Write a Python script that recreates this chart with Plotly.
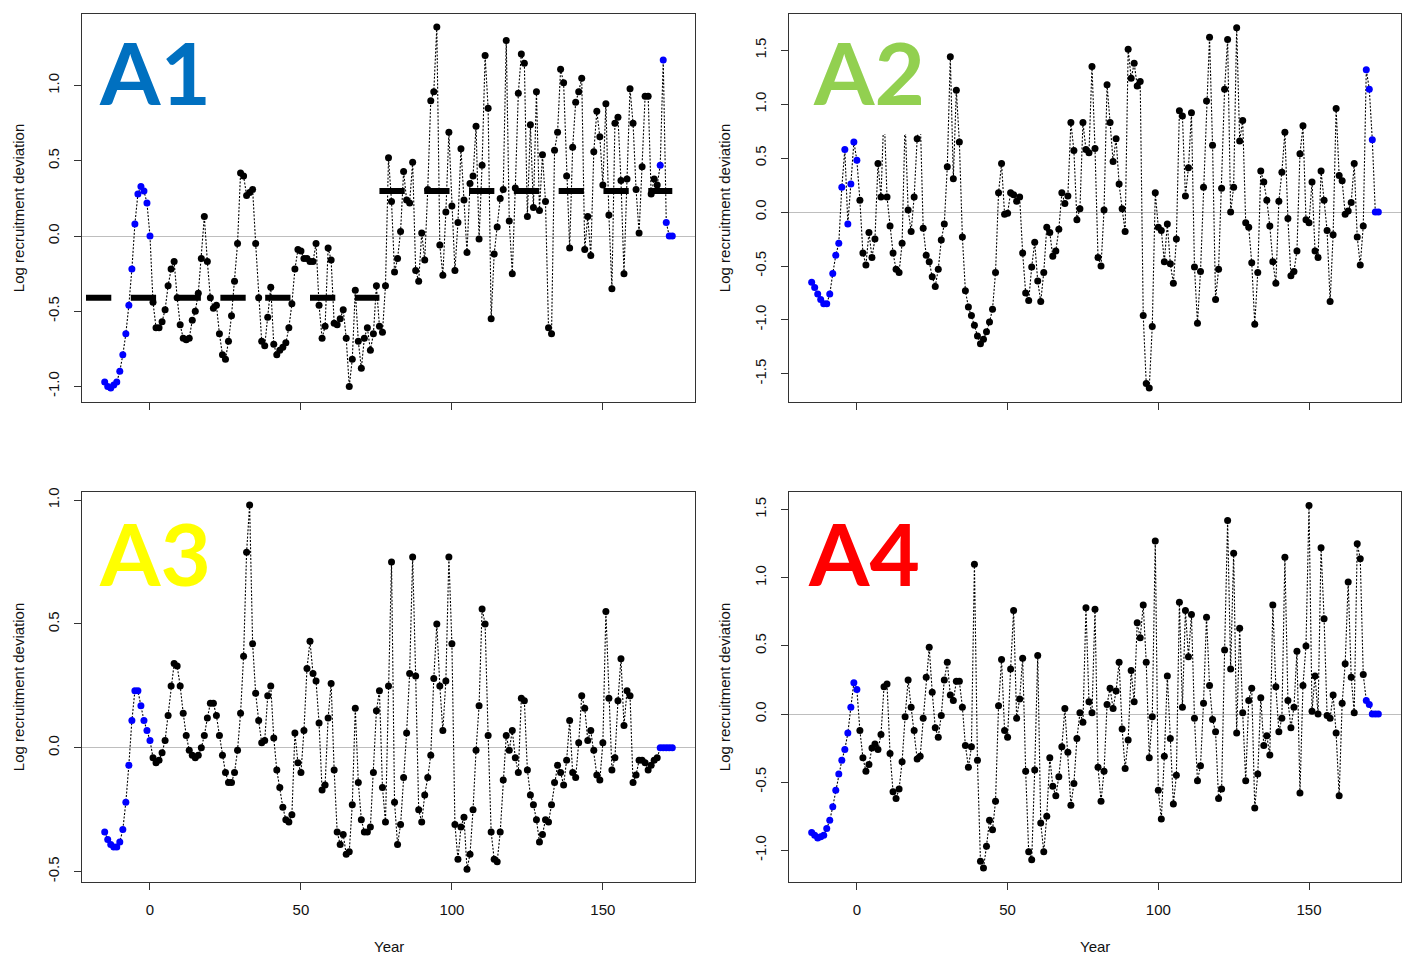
import plotly.graph_objects as go

W, H = 1410, 958

years = list(range(-15, 174))

A1 = [-0.97, -1.00, -1.01, -0.99, -0.97, -0.90, -0.79, -0.65, -0.46, -0.22,
      0.08, 0.28, 0.33, 0.30, 0.22, 0.00, -0.44, -0.61, -0.61, -0.57,
      -0.49, -0.33, -0.22, -0.17, -0.41, -0.59, -0.68, -0.69, -0.68, -0.56,
      -0.50, -0.38, -0.15, 0.13, -0.17, -0.41, -0.48, -0.46, -0.65, -0.79,
      -0.82, -0.70, -0.53, -0.30, -0.05, 0.42, 0.40, 0.27, 0.29, 0.31,
      -0.05, -0.41, -0.70, -0.73, -0.54, -0.34, -0.72, -0.79, -0.76, -0.74,
      -0.71, -0.61, -0.45, -0.22, -0.09, -0.10, -0.15, -0.15, -0.17, -0.17,
      -0.05, -0.46, -0.68, -0.60, -0.08, -0.16, -0.58, -0.59, -0.55, -0.49,
      -0.68, -1.00, -0.82, -0.36, -0.70, -0.88, -0.68, -0.61, -0.76, -0.65,
      -0.33, -0.60, -0.64, -0.33, 0.52, 0.23, -0.24, -0.15, 0.03, 0.43,
      0.24, 0.22, 0.49, -0.23, -0.30, 0.02, -0.16, 0.31, 0.90, 0.96,
      1.39, -0.06, -0.26, 0.16, 0.69, 0.20, -0.23, 0.09, 0.58, 0.24,
      -0.11, 0.35, 0.40, 0.73, -0.02, 0.47, 1.20, 0.85, -0.55, -0.12,
      0.06, 0.25, 0.31, 1.30, 0.10, -0.25, 0.32, 0.95, 1.21, 1.15,
      0.13, 0.74, 0.19, 0.96, 0.17, 0.54, 0.23, -0.61, -0.65, 0.57,
      0.69, 1.11, 1.02, 0.40, -0.08, 0.59, 0.89, 0.96, 1.05, -0.09,
      0.13, -0.13, 0.56, 0.83, 0.66, 0.34, 0.88, 0.14, -0.35, 0.75,
      0.79, 0.37, -0.25, 0.38, 0.98, 0.75, 0.31, 0.02, 0.46, 0.93,
      0.93, 0.28, 0.38, 0.34, 0.47, 1.17, 0.09, 0.00, 0.00]

A2 = [-0.65, -0.70, -0.76, -0.81, -0.85, -0.85, -0.76, -0.57, -0.40, -0.29,
      0.23, 0.58, -0.11, 0.26, 0.65, 0.48, 0.11, -0.38, -0.49, -0.19,
      -0.42, -0.25, 0.45, 0.14, 0.95, 0.14, -0.13, -0.38, -0.53, -0.56,
      -0.29, 0.85, 0.02, -0.18, 0.14, 0.68, 0.90, -0.15, -0.40, -0.46,
      -0.60, -0.69, -0.53, -0.26, -0.11, 0.42, 1.44, 0.31, 1.13, 0.65,
      -0.23, -0.73, -0.88, -0.96, -1.05, -1.15, -1.22, -1.18, -1.11, -1.02,
      -0.90, -0.56, 0.18, 0.45, -0.02, -0.01, 0.18, 0.16, 0.10, 0.14,
      -0.38, -0.75, -0.82, -0.51, -0.28, -0.64, -0.83, -0.56, -0.14, -0.19,
      -0.41, -0.36, -0.16, 0.18, 0.08, 0.15, 0.83, 0.57, -0.07, 0.03,
      0.83, 0.58, 0.55, 1.35, 0.59, -0.42, -0.50, 0.02, 1.18, 0.83,
      0.47, 0.68, 0.26, 0.03, -0.18, 1.51, 1.24, 1.38, 1.17, 1.21,
      -0.96, -1.59, -1.63, -1.06, 0.18, -0.14, -0.17, -0.46, -0.11, -0.48,
      -0.66, -0.25, 0.94, 0.89, 0.15, 0.41, 0.92, -0.51, -1.03, -0.55,
      0.23, 1.03, 1.62, 0.62, -0.81, -0.53, 0.22, 1.14, 1.60, 0.00,
      0.23, 1.71, 0.66, 0.85, -0.10, -0.14, -0.47, -1.04, -0.56, 0.38,
      0.28, 0.11, -0.13, -0.46, -0.66, 0.10, 0.37, 0.74, -0.06, -0.59,
      -0.55, -0.36, 0.54, 0.80, -0.07, -0.10, 0.28, -0.36, -0.42, 0.38,
      0.11, -0.17, -0.83, -0.21, 0.96, 0.34, 0.29, -0.02, 0.01, 0.09,
      0.45, -0.23, -0.49, -0.13, 1.32, 1.14, 0.67, 0.00, 0.00]

A3 = [-0.34, -0.37, -0.39, -0.40, -0.40, -0.38, -0.33, -0.22, -0.07, 0.11,
      0.23, 0.23, 0.17, 0.11, 0.07, 0.03, -0.04, -0.06, -0.05, -0.02,
      0.03, 0.13, 0.25, 0.34, 0.33, 0.25, 0.14, 0.05, -0.01, -0.03,
      -0.04, -0.03, 0.00, 0.05, 0.12, 0.18, 0.18, 0.13, 0.05, -0.03,
      -0.10, -0.14, -0.14, -0.10, -0.01, 0.14, 0.37, 0.79, 0.98, 0.42,
      0.22, 0.11, 0.02, 0.03, 0.21, 0.25, 0.04, -0.09, -0.16, -0.24,
      -0.29, -0.30, -0.27, 0.06, -0.06, -0.10, 0.07, 0.32, 0.43, 0.30,
      0.27, 0.10, -0.17, -0.15, 0.12, 0.26, -0.09, -0.34, -0.39, -0.35,
      -0.43, -0.42, -0.23, 0.16, -0.14, -0.29, -0.34, -0.34, -0.32, -0.10,
      0.15, 0.23, -0.16, -0.30, 0.25, 0.75, -0.22, -0.39, -0.31, -0.12,
      0.06, 0.30, 0.77, 0.29, -0.25, -0.30, -0.19, -0.12, -0.03, 0.28,
      0.50, 0.25, 0.07, 0.27, 0.77, 0.42, -0.31, -0.45, -0.32, -0.28,
      -0.49, -0.43, -0.25, -0.01, 0.17, 0.56, 0.50, 0.05, -0.34, -0.45,
      -0.46, -0.34, -0.13, 0.05, -0.01, 0.07, -0.04, -0.10, 0.20, 0.19,
      -0.09, -0.19, -0.23, -0.29, -0.38, -0.35, -0.29, -0.30, -0.23, -0.14,
      -0.07, -0.10, -0.15, -0.05, 0.11, -0.10, -0.12, 0.02, 0.21, 0.16,
      0.03, 0.07, -0.01, -0.11, -0.13, 0.02, 0.55, 0.20, -0.09, -0.04,
      0.19, 0.36, 0.09, 0.23, 0.21, -0.14, -0.11, -0.05, -0.05, -0.06,
      -0.09, -0.07, -0.05, -0.04, 0.00, 0.00, 0.00, 0.00, 0.00]

A4 = [-0.87, -0.89, -0.91, -0.90, -0.89, -0.84, -0.78, -0.68, -0.56, -0.44,
      -0.34, -0.26, -0.14, 0.05, 0.23, 0.18, -0.12, -0.32, -0.42, -0.37,
      -0.25, -0.22, -0.26, -0.15, 0.20, 0.22, -0.29, -0.57, -0.62, -0.55,
      -0.35, -0.02, 0.25, 0.05, -0.12, -0.33, -0.31, -0.03, 0.27, 0.49,
      0.16, -0.10, -0.17, -0.01, 0.25, 0.38, 0.14, 0.10, 0.24, 0.24,
      0.05, -0.23, -0.39, -0.24, 1.10, -0.34, -1.08, -1.13, -0.97, -0.78,
      -0.85, -0.64, 0.06, 0.40, -0.12, -0.17, 0.33, 0.76, -0.03, 0.11,
      0.41, -0.42, -1.01, -1.07, -0.41, 0.43, -0.80, -1.01, -0.75, -0.32,
      -0.53, -0.60, -0.46, -0.24, 0.04, -0.28, -0.67, -0.51, -0.18, 0.01,
      -0.06, 0.78, 0.09, 0.01, 0.77, -0.39, -0.64, -0.42, 0.07, 0.19,
      0.04, 0.17, 0.38, -0.11, -0.40, -0.19, 0.32, 0.09, 0.67, 0.56,
      0.80, 0.38, -0.32, -0.02, 1.27, -0.56, -0.77, -0.31, 0.28, -0.18,
      -0.66, -0.45, 0.82, 0.05, 0.76, 0.42, 0.73, -0.03, -0.49, -0.38,
      0.08, 0.71, 0.21, -0.04, -0.13, -0.62, -0.55, 0.47, 1.42, 0.33,
      1.18, -0.14, 0.63, 0.01, -0.49, 0.10, 0.19, -0.69, -0.44, 0.12,
      -0.23, -0.16, -0.30, 0.80, 0.20, -0.13, -0.03, 1.15, 0.10, -0.10,
      0.05, 0.46, -0.58, 0.21, 0.50, 1.53, 0.02, 0.28, 0.00, 1.22,
      0.70, -0.01, -0.03, 0.14, -0.14, -0.60, 0.08, 0.37, 0.97, 0.27,
      0.01, 1.25, 1.14, 0.29, 0.10, 0.07, 0.00, 0.00, 0.00]

# regime means drawn in panel A1
regime_start = [-21.2, 76.0]
regime_end = [76.0, 173.0]
regime_mean = [-0.41, 0.30]

x_ticks = [0, 50, 100, 150]
y_ticks_A1 = [-1.0, -0.5, 0.0, 0.5, 1.0]
y_ticks_A2 = [-1.5, -1.0, -0.5, 0.0, 0.5, 1.0, 1.5]
y_ticks_A3 = [-0.5, 0.0, 0.5, 1.0]
y_ticks_A4 = [-1.0, -0.5, 0.0, 0.5, 1.0, 1.5]

labels = ["A1", "A2", "A3", "A4"]
label_colors = ["#0070C0", "#92D050", "#FFFF00", "#FF0000"]
y_title = "Log recruitment deviation"
x_title = "Year"


def px(x):
    return x / W


def py(y):
    return 1 - y / H


xr = [-22.52, 180.52]
dom_x = {"L": [px(82), px(695)], "R": [px(789), px(1401)]}
dom_y = {"T": [py(400), py(10)], "B": [py(882), py(490)]}

panels = [
    dict(vals=A1, yr=[-1.106, 1.477], yt=y_ticks_A1, dx="L", dy="T"),
    dict(vals=A2, yr=[-1.764, 1.837], yt=y_ticks_A2, dx="R", dy="T"),
    dict(vals=A3, yr=[-0.543, 1.033], yt=y_ticks_A3, dx="L", dy="B"),
    dict(vals=A4, yr=[-1.235, 1.630], yt=y_ticks_A4, dx="R", dy="B"),
]

fig = go.Figure()
FONT = "Liberation Sans, Arial, sans-serif"
INK = "#111111"
FRAME = "#333333"

for i, p in enumerate(panels):
    k = "" if i == 0 else str(i + 1)
    xa, ya = "x" + k, "y" + k
    vals = p["vals"]
    fig.add_trace(go.Scatter(x=years, y=vals, mode="lines", xaxis=xa, yaxis=ya,
                             line=dict(color="black", width=1.1, dash="2px,1.6px"),
                             hoverinfo="skip", showlegend=False))
    bx = [yv for yv, v in zip(years, vals) if 0 < yv < 169]
    by = [v for yv, v in zip(years, vals) if 0 < yv < 169]
    ux = [yv for yv in years if yv <= 0 or yv >= 169]
    uy = [v for yv, v in zip(years, vals) if yv <= 0 or yv >= 169]
    fig.add_trace(go.Scatter(x=bx, y=by, mode="markers", xaxis=xa, yaxis=ya,
                             marker=dict(color="black", size=7, line=dict(width=0)),
                             showlegend=False))
    fig.add_trace(go.Scatter(x=ux, y=uy, mode="markers", xaxis=xa, yaxis=ya,
                             marker=dict(color="#0000FF", size=7, line=dict(width=0)),
                             showlegend=False))
    if i == 0:
        for s, e, m in zip(regime_start, regime_end, regime_mean):
            fig.add_trace(go.Scatter(x=[s, e], y=[m, m], mode="lines", xaxis=xa, yaxis=ya,
                                     line=dict(color="black", width=6, dash="25.3px,19.5px"),
                                     showlegend=False))
    bottom = p["dy"] == "B"
    fig.layout["xaxis" + k] = dict(
        domain=dom_x[p["dx"]], range=xr, anchor=ya, tickmode="array",
        tickvals=x_ticks, ticktext=[str(t) for t in x_ticks],
        showticklabels=bottom, ticks="outside", ticklen=7, tickwidth=1,
        tickcolor=FRAME, showline=True, linecolor=FRAME, linewidth=1, mirror=True,
        showgrid=False, zeroline=False, ticklabelstandoff=7,
        tickfont=dict(family=FONT, size=15, color=INK))
    fig.layout["yaxis" + k] = dict(
        domain=dom_y[p["dy"]], range=p["yr"], anchor=xa, tickmode="array",
        tickvals=p["yt"], ticktext=["%.1f" % t for t in p["yt"]], tickangle=-90,
        ticks="outside", ticklen=7, tickwidth=1, tickcolor=FRAME,
        showline=True, linecolor=FRAME, linewidth=1, mirror=True,
        showgrid=False, zeroline=True, zerolinecolor="#bebebe", zerolinewidth=1,
        ticklabelstandoff=9, tickfont=dict(family=FONT, size=15, color=INK))

# label boxes (white) and big panel labels
label_pos = [(100.3, 73.0), (814.0, 72.9), (100.3, 555.8), (808.7, 556.3)]
shapes = []
annotations = []
for (lx, ly), t, c in zip(label_pos, labels, label_colors):
    shapes.append(dict(type="rect", xref="paper", yref="paper", layer="above",
                       x0=px(lx - 18), x1=px(lx + 114), y0=py(ly - 55), y1=py(ly + 58),
                       fillcolor="white", line=dict(width=0)))
    annotations.append(dict(text="<b>%s</b>" % t, xref="paper", yref="paper",
                            x=px(lx - 3), y=py(ly - 5), xanchor="left", yanchor="middle",
                            showarrow=False,
                            font=dict(family="Lato, Open Sans, sans-serif", size=87, color=c)))

for cx in [18, 724]:
    for cy in [205, 686]:
        annotations.append(dict(text=y_title, xref="paper", yref="paper", x=px(cx), y=py(cy),
                                xanchor="center", yanchor="middle", textangle=-90,
                                showarrow=False, font=dict(family=FONT, size=15, color=INK)))
for cx in [389, 1095]:
    annotations.append(dict(text=x_title, xref="paper", yref="paper", x=px(cx), y=py(946),
                            xanchor="center", yanchor="middle", showarrow=False,
                            font=dict(family=FONT, size=15, color=INK)))

fig.update_layout(width=W, height=H, margin=dict(l=0, r=0, t=0, b=0),
                  paper_bgcolor="white", plot_bgcolor="white",
                  shapes=shapes, annotations=annotations, showlegend=False)

fig.write_html("out.html", include_plotlyjs=True, full_html=True,
               config={"displayModeBar": False})
